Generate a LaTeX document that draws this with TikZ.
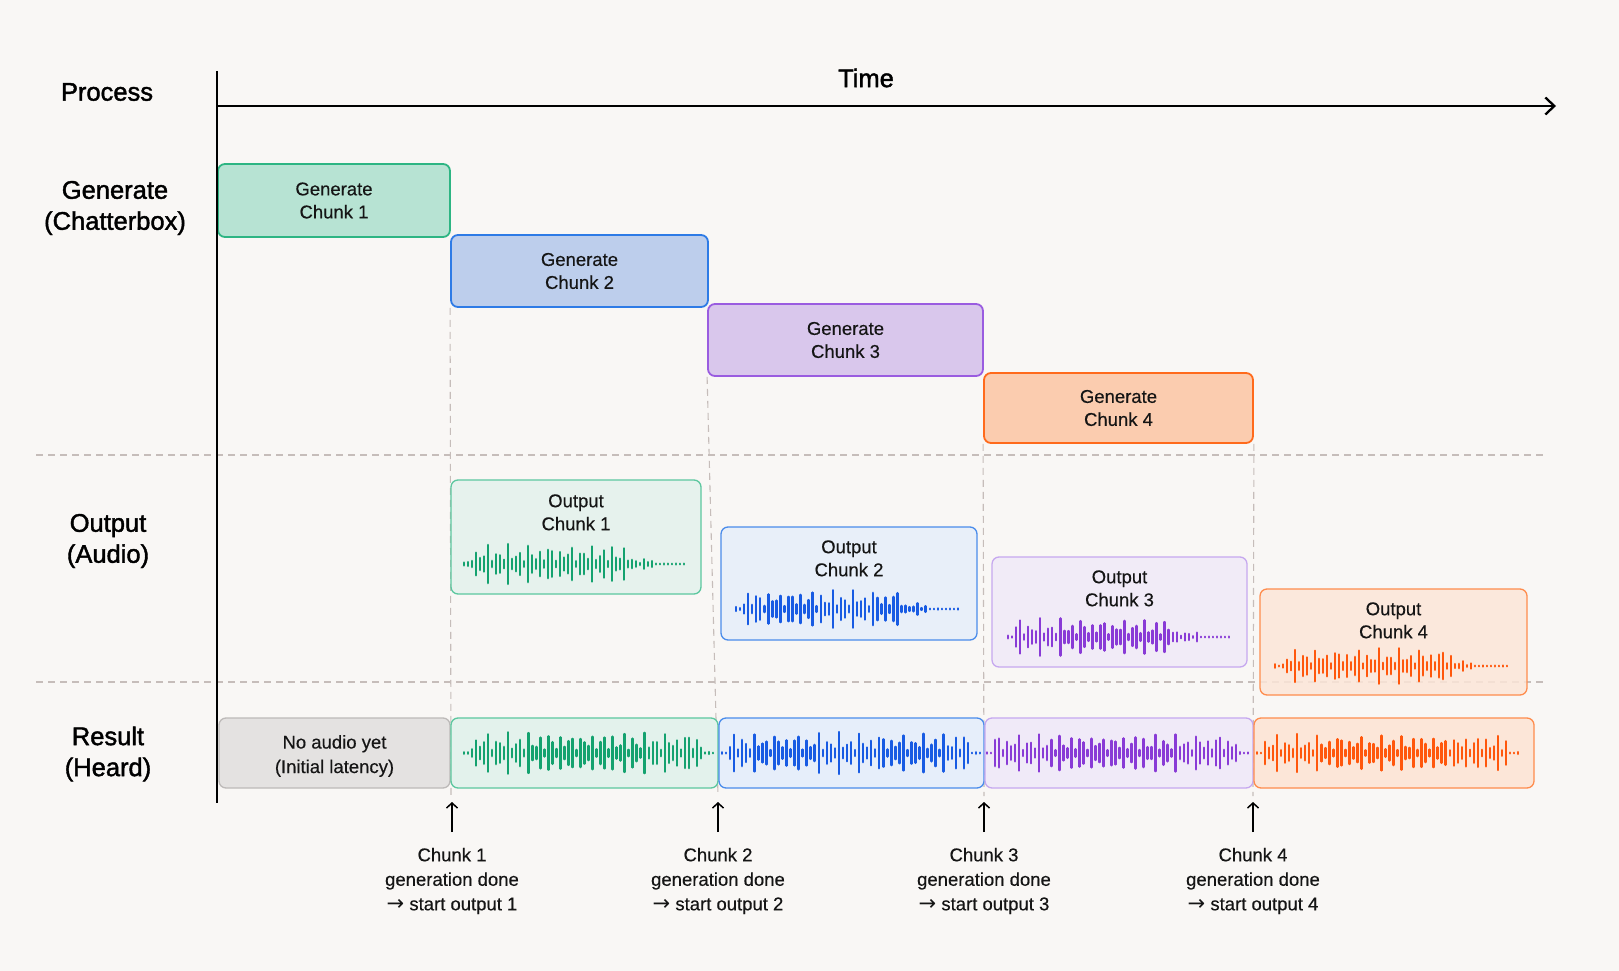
\documentclass[tikz,border=0pt]{standalone}
\usepackage{fontspec}
\setmainfont{Liberation Sans}
\newfontfamily\headfont[FakeBold=1.6]{Liberation Sans}
\newfontfamily\boxfont[FakeBold=0.4]{Liberation Sans}
\newfontfamily\arrowfont{DejaVu Sans}
\usetikzlibrary{arrows.meta}
\definecolor{bg}{HTML}{F9F7F5}
\definecolor{txt}{HTML}{151515}
\definecolor{dashc}{HTML}{C6BDBA}
\definecolor{gGF}{HTML}{B7E3D3}\definecolor{gGB}{HTML}{2DB583}
\definecolor{gBF}{HTML}{BDCEEC}\definecolor{gBB}{HTML}{2E7BE6}
\definecolor{gPF}{HTML}{D9C7EC}\definecolor{gPB}{HTML}{9A5CE0}
\definecolor{gOF}{HTML}{FBCCAF}\definecolor{gOB}{HTML}{FF6A1C}
\definecolor{oGF}{HTML}{E3F2EC}\definecolor{oGB}{HTML}{5CC79F}
\definecolor{oBF}{HTML}{E6EEFA}\definecolor{oBB}{HTML}{4A8CEB}
\definecolor{oPF}{HTML}{F0EAF8}\definecolor{oPB}{HTML}{C6A8EF}
\definecolor{oOF}{HTML}{FCE6D8}\definecolor{oOB}{HTML}{FF8C4D}
\definecolor{nF}{HTML}{E4E2E1}\definecolor{nB}{HTML}{BDBAB9}
\definecolor{wG}{HTML}{14A26F}
\definecolor{wB}{HTML}{185BE3}
\definecolor{wP}{HTML}{893BD6}
\definecolor{wO}{HTML}{FF570C}
\newcommand{\arr}{{\arrowfont\fontsize{21}{20}\selectfont →}}
\newcommand{\wavebars}[7]{%
  \pgfmathtruncatemacro{\wn}{(#2-#1)/4.0}%
  \pgfmathsetmacro{\wdx}{(#2-#1)/\wn}%
  \foreach \i in {0,...,\wn}{%
    \pgfmathsetmacro{\wt}{\i/\wn}%
    \pgfmathsetmacro{\wr}{0.5+0.5*sin(\i*137.508+#6)}%
    \pgfmathsetmacro{\wq}{0.5+0.5*sin(\i*71.3+3*#6)}%
    \pgfmathsetmacro{\wenv}{#7==0 ? (\wt<0.035 ? 0.12 : (\wt<0.76 ? 1 : (\wt<0.86 ? 0.3 : 0.03))) : ((\wt<0.025 || \wt>0.955) ? 0.05 : 1)}%
    \pgfmathsetmacro{\wh}{max(0.2,#4*\wenv*(0.14+0.86*\wr*(0.5+0.5*\wq)))}%
    \draw[#5, line width=2.5pt, line cap=round] ({#1+\i*\wdx},{#3-\wh}) -- ({#1+\i*\wdx},{#3+\wh});
  }}
\begin{document}
\begin{tikzpicture}[x=1pt,y=-1pt,
  hd/.style={font=\headfont\fontsize{25.5}{31}\selectfont, align=center, text=black, inner sep=0pt},
  bt/.style={font=\boxfont\fontsize{18.5}{23}\selectfont, align=center, text=txt, inner sep=0pt},
  lt/.style={font=\boxfont\fontsize{18.5}{24.5}\selectfont, align=center, text=txt, inner sep=0pt},
  genbox/.style={rounded corners=7pt, line width=1.8pt, inner sep=0pt, bt},
  obox/.style={rounded corners=7pt, line width=1.3pt, inner sep=0pt, fill opacity=0.85},
  rbox/.style={rounded corners=7pt, line width=1.3pt, inner sep=0pt},
  gridline/.style={draw=dashc, line width=1.3pt, dash pattern=on 7pt off 5pt},
  vguide/.style={draw=dashc, line width=1.1pt, dash pattern=on 7pt off 5pt},
  axisline/.style={draw=black, line width=2pt},
  tickarrow/.style={draw=black, line width=1.5pt, -{Straight Barb[length=5pt,width=11pt]}},
]
\useasboundingbox (0,0) rectangle (1619,971);
\fill[bg] (0,0) rectangle (1619,971);

% grid lines
\coordinate (h1a) at (36,455); \coordinate (h1b) at (1547,455);
\coordinate (h2a) at (36,682); \coordinate (h2b) at (1547,682);
\draw[gridline] (h1a) -- (h1b);
\draw[gridline] (h2a) -- (h2b);

% generate boxes
\node[genbox, draw=gGB, fill=gGF, minimum width=232, minimum height=73] (g1) at (334,200.5) {Generate\\Chunk 1};
\node[genbox, draw=gBB, fill=gBF, minimum width=257, minimum height=72] (g2) at (579.5,271) {Generate\\Chunk 2};
\node[genbox, draw=gPB, fill=gPF, minimum width=275, minimum height=72] (g3) at (845.5,340) {Generate\\Chunk 3};
\node[genbox, draw=gOB, fill=gOF, minimum width=269, minimum height=70] (g4) at (1118.5,408) {Generate\\Chunk 4};

% vertical guides
\coordinate (d1) at (451,796);
\coordinate (d2) at (718,796);
\coordinate (d3) at (984,796);
\coordinate (d4) at (1253,796);
\draw[vguide] (g2.south west) -- (d1);
\draw[vguide] (g3.south west) -- (d2);
\draw[vguide] (g4.south west) -- (d3);
\draw[vguide] (g4.south east) -- (d4);

% axes
\coordinate (axTop) at (217,71);
\coordinate (axBot) at (217,803);
\coordinate (tA) at (217,106);
\coordinate (tB) at (1556,106);
\draw[axisline] (axTop) -- (axBot);
\draw[axisline, line width=2.3pt, -{Straight Barb[length=9pt,width=17pt]}] (tA) -- (tB);

% headings
\node[hd] (hProc) at (107,92) {Process};
\node[hd] (hTime) at (866,78) {Time};
\node[hd] (hGen) at (115,208) {Generate\\(Chatterbox)};
\node[hd] (hOut) at (108,541) {Output\\(Audio)};
\node[hd] (hRes) at (108,754) {Result\\(Heard)};

% output boxes
\node[obox, draw=oGB, fill=oGF, minimum width=250, minimum height=114] (o1) at (576,537) {};
\node[obox, draw=oBB, fill=oBF, minimum width=256, minimum height=113] (o2) at (849,583.5) {};
\node[obox, draw=oPB, fill=oPF, minimum width=255, minimum height=110] (o3) at (1119.5,612) {};
\node[obox, draw=oOB, fill=oOF, minimum width=267, minimum height=106] (o4) at (1393.5,642) {};
\node[bt] (o1t) at ([yshift=-33]o1.north) {Output\\Chunk 1};
\node[bt] (o2t) at ([yshift=-32]o2.north) {Output\\Chunk 2};
\node[bt] (o3t) at ([yshift=-32]o3.north) {Output\\Chunk 3};
\node[bt] (o4t) at ([yshift=-32]o4.north) {Output\\Chunk 4};
\wavebars{464}{684}{564}{20}{wG}{11}{0}
\wavebars{736}{958}{609}{20}{wB}{47}{0}
\wavebars{1008}{1229}{637}{19}{wP}{83}{0}
\wavebars{1275}{1507}{666}{18}{wO}{131}{0}

% result row
\node[rbox, draw=nB, fill=nF, minimum width=231, minimum height=70] (r0) at (334.5,753) {};
\node[rbox, draw=oGB, fill=oGF, minimum width=267, minimum height=70] (r1) at (584.5,753) {};
\node[rbox, draw=oBB, fill=oBF, minimum width=265, minimum height=70] (r2) at (851.5,753) {};
\node[rbox, draw=oPB, fill=oPF, minimum width=268, minimum height=70] (r3) at (1119,753) {};
\node[rbox, draw=oOB, fill=oOF, minimum width=280, minimum height=70] (r4) at (1394,753) {};
\node[lt] (r0t) at ([yshift=-3]r0.center) {No audio yet\\(Initial latency)};
\wavebars{464}{713}{753}{22}{wG}{23}{1}
\wavebars{722}{980}{753}{21}{wB}{59}{1}
\wavebars{987}{1248}{753}{20}{wP}{97}{1}
\wavebars{1257}{1518}{753}{19}{wO}{151}{1}

% milestone arrows and labels
\node[lt] (l1) at (452,881) {Chunk 1\\generation done\\\arr{} start output 1};
\node[lt] (l2) at (718,881) {Chunk 2\\generation done\\\arr{} start output 2};
\node[lt] (l3) at (984,881) {Chunk 3\\generation done\\\arr{} start output 3};
\node[lt] (l4) at (1253,881) {Chunk 4\\generation done\\\arr{} start output 4};
\coordinate (a1) at (452,802); \coordinate (b1) at (452,832);
\coordinate (a2) at (718,802); \coordinate (b2) at (718,832);
\coordinate (a3) at (984,802); \coordinate (b3) at (984,832);
\coordinate (a4) at (1253,802); \coordinate (b4) at (1253,832);
\draw[tickarrow] (b1) -- (a1);
\draw[tickarrow] (b2) -- (a2);
\draw[tickarrow] (b3) -- (a3);
\draw[tickarrow] (b4) -- (a4);
\end{tikzpicture}
\end{document}
